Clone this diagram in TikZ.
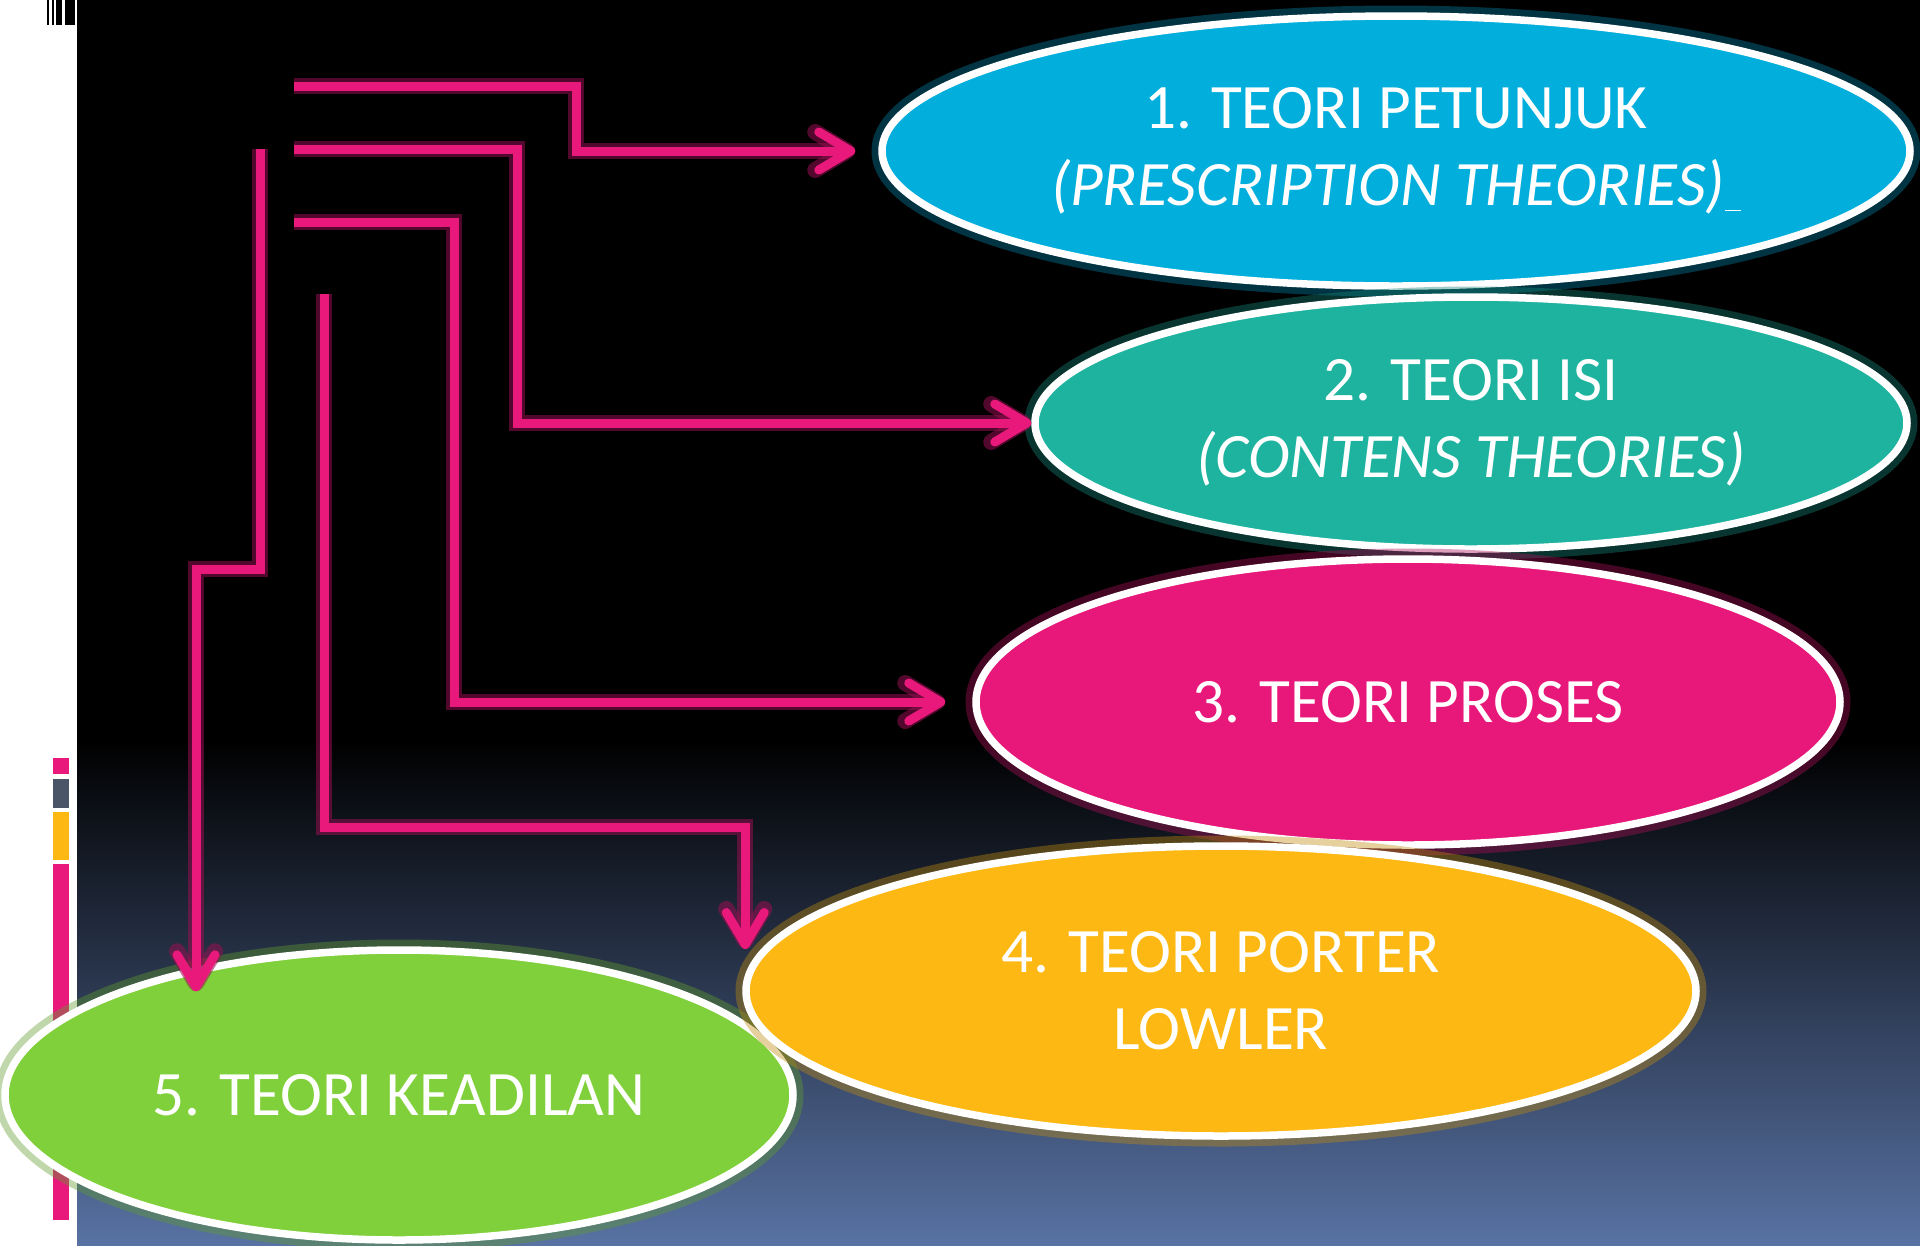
\documentclass[tikz,border=0pt]{standalone}
\usepackage{fontspec}
\setmainfont{Carlito}
\usetikzlibrary{positioning}
\usetikzlibrary{shapes.geometric,arrows.meta,calc}

\definecolor{lnpink}{HTML}{E9197C}
\definecolor{tblue}{HTML}{02AEDC}
\definecolor{tteal}{HTML}{1DB39F}
\definecolor{tpink}{HTML}{E8177A}
\definecolor{tgold}{HTML}{FDB813}
\definecolor{tgreen}{HTML}{80D03B}
\definecolor{bgblue}{HTML}{5872A3}
\definecolor{slate}{HTML}{4B5568}

\tikzset{
	teori/.style={ellipse, draw=white, line width=0.75mm, fill=#1, text=white,
		align=center, inner sep=0pt, font=\fontsize{18}{21.9}\selectfont,
		preaction={draw=#1!75!black, line width=2.1mm, opacity=.4}},
	link/.style={draw=lnpink, line width=0.9mm,
		-{Straight Barb[length=3.2mm,width=3.8mm,round]},
		preaction={draw=lnpink!65!black, line width=1.6mm, opacity=.55}},
}

\begin{document}
\begin{tikzpicture}[x=0.1mm, y=-0.1mm]
	\useasboundingbox (0,0) rectangle (1920,1245);
	%%%%%%%%%% background
	\fill[white] (0,0) rectangle (77,1245);
	\fill[black] (77,0) rectangle (1920,1245);
	\shade[top color=black, bottom color=bgblue] (77,740) rectangle (1920,1245);
	\foreach \a/\b in {47/49, 52/54, 56/62, 65/75}
		\fill[black] (\a,0) rectangle (\b,25);
	\fill[lnpink] (53,758) rectangle (69,774);
	\fill[slate] (53,779) rectangle (69,808);
	\fill[tgold] (53,812) rectangle (69,860);
	\fill[lnpink] (53,864) rectangle (69,1220);
	%%%%%%%%%% theories
	\node[teori=tblue, minimum width=102.8mm, minimum height=27mm] (t1) at (1396,151)
		{1. TEORI PETUNJUK\\ \textit{(PRESCRIPTION THEORIES)}\underline{\hspace{0.25em}}};
	\node[teori=tteal, minimum width=87.2mm, minimum height=25.2mm] (t2) at (1471,423)
		{2. TEORI ISI\\ \textit{(CONTENS THEORIES)}};
	\node[teori=tpink, minimum width=86.4mm, minimum height=28.6mm] (t3) at (1408,702)
		{3. TEORI PROSES};
	\node[teori=tgreen, minimum width=78.8mm, minimum height=29mm] (t5) at (399,1095)
		{5. TEORI KEADILAN};
	\node[teori=tgold, minimum width=95mm, minimum height=29mm] (t4) at (1221,991)
		{4. TEORI PORTER\\ LOWLER};
	%%%%%%%%%% line starts
	\coordinate (s1) at (294,86);
	\coordinate[below =6.3mm of s1] (s2);
	\coordinate[below =7.3mm of s2] (s3);
	\coordinate[below right =7.2mm and 3mm of s3] (s4);
	\coordinate[left =3.4mm of s2] (s5);
	%%%%%%%%%% links
	\draw[link, shorten >=2.3mm] (s1) -- ++(282,0) |- (t1.west);
	\draw[link] (s2) -- ++(223,0) |- (t2.west);
	\draw[link, shorten >=2.7mm] (s3) -- ++(160,0) |- (t3.west);
	\draw[link] (s4) -- ++(0,533) -| ($(t4.west)+(3,-42)$);
	\draw[link] (s5) -- ++(0,420) -| ($(t5.north)+(-203,45)$);
\end{tikzpicture}
\end{document}
